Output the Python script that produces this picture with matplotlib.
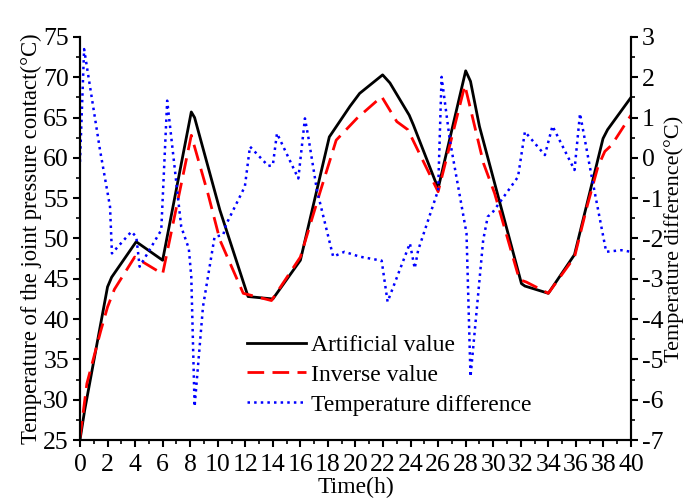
import matplotlib
matplotlib.use('Agg')
import matplotlib.pyplot as plt
from matplotlib.ticker import MultipleLocator

plt.rcParams['font.family'] = ['Liberation Serif', 'DejaVu Serif']
plt.rcParams['axes.unicode_minus'] = False

# artificial value (left axis)
black_t = [0, 0.34, 2.0, 2.3, 4.08, 6.0, 8.08, 8.32, 10.16, 12.2, 14.0, 16.0, 18.1, 19.6, 20.3,
           21.97, 22.5, 23.9, 24.2, 26.0, 28.0, 28.35, 29.0, 32.05, 32.3, 34.0, 35.9, 37.97, 38.3, 40]
black_v = [25, 28.7, 44.0, 45.2, 49.6, 47.3, 65.7, 65.0, 53.5, 42.8, 42.5, 47.3, 62.6, 66.4, 68.0,
           70.3, 69.3, 65.3, 64.1, 56.2, 70.8, 69.5, 63.9, 44.4, 44.1, 43.2, 48.0, 62.4, 63.5, 67.5]

# inverse value (left axis)
red_t = [0, 0.5, 1.5, 2.0, 2.5, 3.97, 6.0, 8.08, 9.3, 10.16, 11.85, 13.9, 16.0, 17.4, 18.6, 20.1,
         21.9, 23.0, 23.8, 26.0, 27.94, 29.3, 30.1, 31.9, 32.4, 34.0, 35.9, 36.8, 37.6, 38.1, 38.6, 40]
red_v = [25.3, 32.0, 38.5, 41.5, 43.7, 47.7, 45.6, 62.8, 55.5, 49.8, 43.2, 42.3, 47.7, 55.6, 62.2, 64.9,
         67.6, 64.5, 63.5, 55.8, 69.0, 59.3, 55.6, 44.9, 44.6, 43.2, 47.7, 53.9, 58.9, 60.8, 61.6, 65.3]

# temperature difference (right axis)
blue_t = [0, 0.3, 1.45, 2.18, 2.32, 3.73, 4.09, 4.33, 5.9, 6.33, 7.35, 7.9, 8.08, 8.32, 8.93, 9.77,
          10.4, 10.6, 11.97, 12.34, 13.67, 14.0, 14.3, 15.85, 16.33, 16.57, 17.2, 18.38, 19.2, 20.3,
          21.9, 22.33, 23.95, 24.3, 24.55, 26.0, 26.25, 26.85, 28.06, 28.35, 29.27, 29.6, 30.0, 31.8,
          32.3, 33.75, 34.3, 35.9, 36.3, 37.1, 38.2, 39.3, 40]
blue_v = [-0.1, 2.7, 0.2, -1.21, -2.37, -1.83, -1.96, -2.7, -1.79, 1.42, -1.71, -2.25, -2.95, -6.17,
          -3.69, -1.96, -1.91, -1.66, -0.71, 0.28, -0.2, -0.18, 0.61, -0.51, 0.98, 0.53, -0.8, -2.45,
          -2.33, -2.45, -2.55, -3.57, -2.12, -2.74, -2.29, -0.8, 2.01, 0.44, -1.87, -5.43, -2.04, -1.46,
          -1.33, -0.47, 0.65, 0.07, 0.79, -0.3, 1.1, -0.38, -2.33, -2.29, -2.33]

fig = plt.figure(figsize=(6.86, 4.99), dpi=100)
ax = fig.add_axes([0.1166, 0.1182, 0.8032, 0.8077])
ax2 = ax.twinx()

l1, = ax.plot(black_t, black_v, color='black', lw=2.0, label='Artificial value')
l2, = ax.plot(red_t, red_v, color='#ff0000', lw=2.0, dashes=(6, 3), label='Inverse value')
l3, = ax2.plot(blue_t, blue_v, color='#0000ff', lw=1.8, ls=':', label='Temperature difference')

ax.set_xlim(0, 40)
ax.set_ylim(25, 75)
ax2.set_ylim(-7, 3)

ax.xaxis.set_major_locator(MultipleLocator(2))
ax.xaxis.set_minor_locator(MultipleLocator(1))
ax.yaxis.set_major_locator(MultipleLocator(5))
ax.yaxis.set_minor_locator(MultipleLocator(2.5))
ax2.yaxis.set_major_locator(MultipleLocator(1))
ax2.yaxis.set_minor_locator(MultipleLocator(0.5))

for a in (ax, ax2):
    a.spines['top'].set_visible(False)
    for s in a.spines.values():
        s.set_linewidth(1.5)
    a.tick_params(which='major', direction='out', length=5, width=1.5, labelsize=18.5, pad=3)
    a.tick_params(which='minor', direction='out', length=3, width=1.2)
ax.tick_params(axis='x', which='major', pad=5)

ax.set_xlabel('Time(h)', fontsize=17, labelpad=1)
ax.set_ylabel('Temperature of the joint pressure contact(°C)', fontsize=16.3, labelpad=1)
ax2.set_ylabel('Temperature difference(°C)', fontsize=16, labelpad=0.5)

ax.legend([l1, l2, l3], [l1.get_label(), l2.get_label(), l3.get_label()],
          loc='lower left', bbox_to_anchor=(0.265, 0.008), frameon=False, fontsize=17,
          handlelength=2.5, labelspacing=0.35, handletextpad=0.2)

fig.savefig('out.png', dpi=100)
